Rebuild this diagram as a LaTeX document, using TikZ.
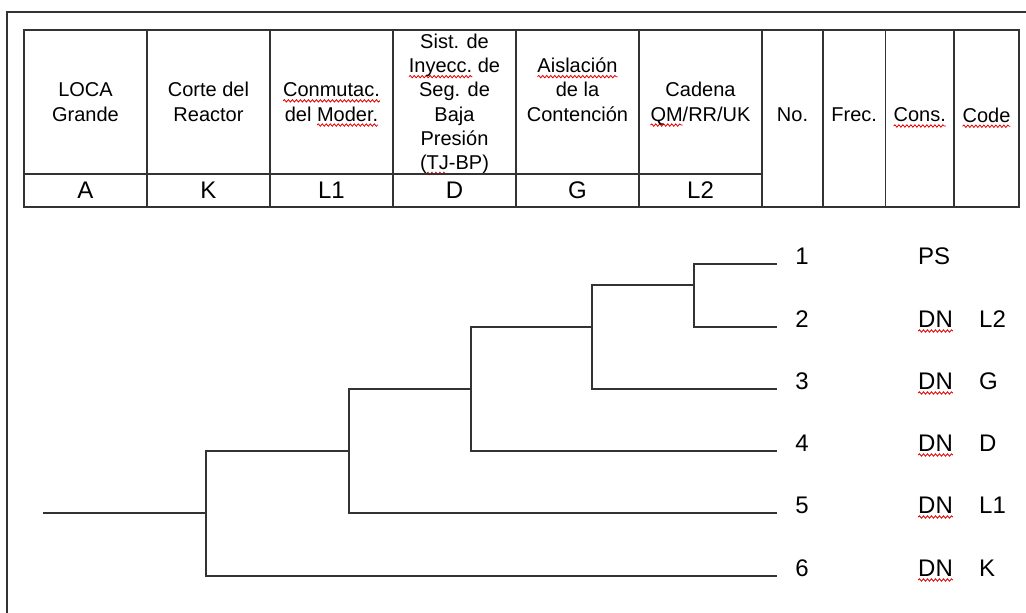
\documentclass[tikz,border=0pt]{standalone}
\usepackage{fontspec}
\setmainfont{Liberation Sans}
\usepackage{xcolor}
\usepackage{tikz}
\usetikzlibrary{positioning,decorations.pathmorphing}
\newcommand\wstrut{\rule[-4.5pt]{0pt}{22.9pt}}
\pgfkeys{tikz/myframe/.style={line width=1.4pt,draw=black!80}}
\pgfkeys{tikz/mycell/.style={draw=black!80,line width=1.2pt,minimum width=123pt,minimum height=144pt,inner sep=0pt,outer sep=0pt,align=center,font=\fontsize{20}{24.2}\selectfont}}
\pgfkeys{tikz/mycellletter/.style={draw=black!80,line width=1.2pt,minimum width=123pt,minimum height=33pt,inner sep=0pt,outer sep=0pt,font=\fontsize{24}{28}\selectfont}}
\pgfkeys{tikz/mysidecell/.style={draw=black!80,line width=1.2pt,minimum height=177pt,inner sep=0pt,outer sep=0pt,text depth=7pt,font=\fontsize{20}{24.2}\selectfont}}
\pgfkeys{tikz/mybranch/.style={draw=black!80,line width=1.2pt}}
\pgfkeys{tikz/myoutcome/.style={font=\fontsize{24}{28}\selectfont,inner sep=0pt,anchor=base}}
\pgfkeys{tikz/mywave/.style={draw=red!90!black,line width=0.8pt,decorate,decoration={snake,amplitude=1.2pt,segment length=4pt}}}
\newsavebox\wavebox
\newlength\wavelen
\newcommand*\redwave[1]{\sbox\wavebox{#1}\setlength\wavelen{\wd\wavebox}%
    \tikz[overlay,baseline=0pt]\draw[mywave] (0pt,-4pt) -- (\wavelen,-4pt);\usebox\wavebox}

\begin{document}
\begin{tikzpicture}[x=1pt,y=-1pt]
    \useasboundingbox (0,0) rectangle (1026,613);
    \draw[myframe] (7,613) -- (7,12) -- (1026,12);
    % event headings
    \foreach \i/\n/\t/\l in {0/loca/{LOCA\\Grande}/A,
                             1/corte/{Corte del\\Reactor}/K,
                             2/conm/{\redwave{Conmutac.}\\del \redwave{Moder.}}/L1,
                             3/sist/{Sist. de\\\redwave{Inyecc.} de\\Seg. de\\Baja\\Presión\\(\redwave{TJ}-BP)}/D,
                             4/aisl/{\redwave{Aislación}\\de la\\Contención\\\mbox{}}/G,
                             5/cad/{Cadena\\\redwave{QM}/RR/UK}/L2}{
        \node[mycell] (h\n) at ({85.5+123*\i},102) {\wstrut\t\wstrut};
        \node[mycellletter,below=0pt of h\n] (l\n) {\l};
    }
    \node[mysidecell,minimum width=61pt,anchor=north west] (no) at (762,30) {No.};
    \node[mysidecell,minimum width=62.5pt,right=0pt of no] (frec) {Frec.};
    \node[mysidecell,minimum width=68.5pt,right=0pt of frec] (cons) {\redwave{Cons.}};
    \node[mysidecell,minimum width=65pt,right=0pt of cons] (code) {\redwave{Code}};
    % sequences
    \foreach \k/\y/\c in {1/264/PS,2/327/\redwave{DN},3/389/\redwave{DN},
                          4/451/\redwave{DN},5/513/\redwave{DN},6/576/\redwave{DN}}{
        \node[myoutcome,minimum width=50pt] (n\k) at (802,\y) {\k};
        \node[myoutcome,anchor=base west] (c\k) at (918,\y) {\c};
    }
    \foreach \k/\y/\l in {2/327/L2,3/389/G,4/451/D,5/513/L1,6/576/K}
        \node[myoutcome,anchor=base west] (d\k) at (979,\y) {\l};
    \coordinate (s) at (43,513);
    \coordinate (j1) at (206,513);
    \coordinate (j2) at (349,451);
    \coordinate (j3) at (471,389);
    \coordinate (j4) at (592,327);
    \coordinate (j5) at (694,285);
    \draw[mybranch] (s) -- (j1);
    \draw[mybranch] (j1) |- (j2);
    \draw[mybranch] (j1) |- (n6.base west);
    \draw[mybranch] (j2) |- (j3);
    \draw[mybranch] (j2) |- (n5.base west);
    \draw[mybranch] (j3) |- (j4);
    \draw[mybranch] (j3) |- (n4.base west);
    \draw[mybranch] (j4) |- (j5);
    \draw[mybranch] (j4) |- (n3.base west);
    \draw[mybranch] (j5) |- (n1.base west);
    \draw[mybranch] (j5) |- (n2.base west);
\end{tikzpicture}
\end{document}
